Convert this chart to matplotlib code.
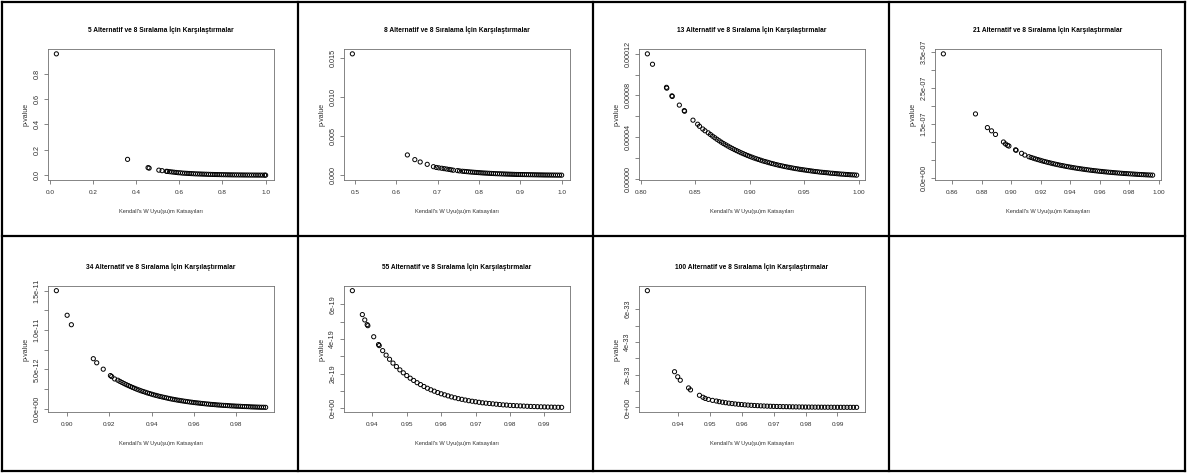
import matplotlib.pyplot as plt
from matplotlib.lines import Line2D

plt.rcParams['font.family'] = ['Liberation Sans', 'DejaVu Sans']

# number of alternatives compared in each panel (8 rankings each)
alternatives = [5, 8, 13, 21, 34, 55, 100]

# Kendall's W (x) and p-value (y)
w_05 = [0.03, 0.36, 0.455, 0.46, 0.505, 0.52, 0.54, 0.545, 0.555, 0.565, 0.575, 0.585,
        0.595, 0.605, 0.615, 0.625, 0.635, 0.645, 0.655, 0.665, 0.675, 0.685, 0.695,
        0.705, 0.715, 0.725, 0.735, 0.745, 0.755, 0.765, 0.775, 0.785, 0.795, 0.805,
        0.815, 0.825, 0.835, 0.845, 0.855, 0.865, 0.875, 0.885, 0.895, 0.905, 0.915,
        0.925, 0.935, 0.945, 0.955, 0.965, 0.975, 0.985, 0.995, 1.0]
p_05 = [0.955, 0.125, 0.060, 0.056, 0.040, 0.036, 0.031, 0.030, 0.028, 0.026, 0.024, 0.022,
        0.020, 0.019, 0.017, 0.016, 0.015, 0.014, 0.013, 0.012, 0.011, 0.0105, 0.0098,
        0.0091, 0.0085, 0.0079, 0.0073, 0.0068, 0.0063, 0.0058, 0.0054, 0.0050, 0.0046,
        0.0043, 0.0040, 0.0037, 0.0034, 0.0031, 0.0029, 0.0027, 0.0025, 0.0023, 0.0021,
        0.0019, 0.0018, 0.0016, 0.0015, 0.0014, 0.0013, 0.0012, 0.0011, 0.0010, 0.0009,
        0.0008]

w_08 = [0.494, 0.627, 0.645, 0.658, 0.675, 0.69, 0.697, 0.703, 0.71, 0.716, 0.722, 0.728,
        0.733, 0.738, 0.748, 0.753,
        0.760, 0.765, 0.770, 0.775, 0.780, 0.785, 0.790, 0.795, 0.800, 0.805,
        0.810, 0.815, 0.820, 0.825, 0.830, 0.835, 0.840, 0.845, 0.850, 0.855,
        0.860, 0.865, 0.870, 0.875, 0.880, 0.885, 0.890, 0.895, 0.900, 0.905,
        0.910, 0.915, 0.920, 0.925, 0.930, 0.935, 0.940, 0.945, 0.950, 0.955,
        0.960, 0.965, 0.970, 0.975, 0.980, 0.985, 0.990, 0.995, 1.000]
p_08 = [0.0155, 0.0026, 0.0020, 0.0017, 0.0014, 0.0011, 0.0010, 0.00095, 0.0009, 0.00085,
        0.0008, 0.00075, 0.0007, 0.00065, 0.0006, 0.00056,
        0.00052, 0.000495, 0.00047, 0.000445, 0.00042, 0.0004, 0.00038, 0.00036, 0.00034,
        0.00032, 0.0003, 0.000285, 0.00027, 0.000255, 0.00024, 0.000225, 0.00021, 0.0002,
        0.00019, 0.00018, 0.00017, 0.00016, 0.00015, 0.00014, 0.00013, 0.00012, 0.00011,
        0.000105, 0.0001, 0.000095, 0.00009, 0.000085, 0.00008, 0.000075, 0.00007,
        0.000065, 0.00006, 0.000055, 0.00005, 0.000045, 0.00004, 0.0000375, 0.000035,
        0.0000325, 0.00003, 0.0000275, 0.000025, 0.0000225, 0.00002]

w_13 = [0.8062, 0.8109, 0.8237, 0.8240, 0.8287, 0.8290, 0.8355, 0.8400, 0.8403, 0.848,
        0.8523, 0.854, 0.857, 0.859,
        0.862, 0.864, 0.866, 0.868, 0.870, 0.872, 0.874, 0.876, 0.878, 0.880,
        0.882, 0.884, 0.886, 0.888, 0.890, 0.892, 0.894, 0.896, 0.898, 0.900,
        0.902, 0.904, 0.906, 0.908, 0.910, 0.912, 0.914, 0.916, 0.918, 0.920,
        0.922, 0.924, 0.926, 0.928, 0.930, 0.932, 0.934, 0.936, 0.938, 0.940,
        0.942, 0.944, 0.946, 0.948, 0.950, 0.952, 0.954, 0.956, 0.958, 0.960,
        0.962, 0.964, 0.966, 0.968, 0.970, 0.972, 0.974, 0.976, 0.978, 0.980,
        0.982, 0.984, 0.986, 0.988, 0.990, 0.992, 0.994, 0.996, 0.998]
p_13 = [1.2e-4, 1.10e-4, 8.78e-5, 8.70e-5, 7.96e-5, 7.90e-5, 7.07e-5, 6.54e-5, 6.48e-5,
        5.62e-5, 5.23e-5, 5.03e-5, 4.77e-5, 4.60e-5,
        4.40e-5, 4.24e-5, 4.08e-5, 3.93e-5, 3.78e-5, 3.64e-5, 3.50e-5, 3.37e-5, 3.25e-5,
        3.13e-5, 3.01e-5, 2.90e-5, 2.79e-5, 2.69e-5, 2.59e-5, 2.49e-5, 2.40e-5, 2.31e-5,
        2.22e-5, 2.14e-5, 2.06e-5, 1.98e-5, 1.91e-5, 1.84e-5, 1.77e-5, 1.70e-5, 1.64e-5,
        1.58e-5, 1.52e-5, 1.46e-5, 1.41e-5, 1.35e-5, 1.30e-5, 1.25e-5, 1.21e-5, 1.16e-5,
        1.12e-5, 1.08e-5, 1.04e-5, 1.00e-5, 9.6e-6, 9.3e-6, 8.9e-6, 8.6e-6, 8.3e-6,
        8.0e-6, 7.7e-6, 7.4e-6, 7.1e-6, 6.8e-6, 6.6e-6, 6.3e-6, 6.1e-6, 5.9e-6, 5.7e-6,
        5.5e-6, 5.2e-6, 5.1e-6, 4.9e-6, 4.7e-6, 4.5e-6, 4.3e-6, 4.2e-6, 4.0e-6, 3.9e-6,
        3.7e-6, 3.6e-6, 3.5e-6, 3.3e-6]

w_21 = [0.8539, 0.8757, 0.8838, 0.8866, 0.8893, 0.8947, 0.8961, 0.8975, 0.8984, 0.9029,
        0.9033, 0.907, 0.9092,
        0.912, 0.9135, 0.915, 0.9165, 0.918, 0.9195, 0.921, 0.9225, 0.924, 0.9255,
        0.927, 0.9285, 0.930, 0.9315, 0.933, 0.9345, 0.936, 0.9375, 0.939, 0.9405,
        0.942, 0.9435, 0.945, 0.9465, 0.948, 0.9495, 0.951, 0.9525, 0.954, 0.9555,
        0.957, 0.9585, 0.960, 0.9615, 0.963, 0.9645, 0.966, 0.9675, 0.969, 0.9705,
        0.972, 0.9735, 0.975, 0.9765, 0.978, 0.9795, 0.981, 0.9825, 0.984, 0.9855,
        0.987, 0.9885, 0.990, 0.9915, 0.993, 0.9945, 0.996]
p_21 = [3.45e-7, 1.78e-7, 1.40e-7, 1.31e-7, 1.21e-7, 1.00e-7, 9.45e-8, 9.06e-8, 8.87e-8,
        7.81e-8, 7.70e-8, 6.85e-8, 6.36e-8,
        5.90e-8, 5.69e-8, 5.49e-8, 5.30e-8, 5.11e-8, 4.93e-8, 4.75e-8, 4.58e-8, 4.42e-8,
        4.27e-8, 4.12e-8, 3.97e-8, 3.83e-8, 3.70e-8, 3.56e-8, 3.44e-8, 3.32e-8, 3.20e-8,
        3.09e-8, 2.98e-8, 2.87e-8, 2.77e-8, 2.67e-8, 2.58e-8, 2.49e-8, 2.40e-8, 2.31e-8,
        2.23e-8, 2.15e-8, 2.07e-8, 2.00e-8, 1.93e-8, 1.86e-8, 1.80e-8, 1.73e-8, 1.67e-8,
        1.61e-8, 1.56e-8, 1.50e-8, 1.45e-8, 1.40e-8, 1.35e-8, 1.30e-8, 1.25e-8, 1.21e-8,
        1.17e-8, 1.13e-8, 1.09e-8, 1.05e-8, 1.01e-8, 9.7e-9, 9.4e-9, 9.1e-9, 8.7e-9,
        8.4e-9, 8.1e-9, 7.8e-9]

w_34 = [0.8949, 0.900, 0.902, 0.9124, 0.914, 0.9171, 0.9205, 0.9211, 0.9225,
        0.924, 0.925, 0.926, 0.927, 0.928, 0.929, 0.930, 0.931, 0.932, 0.933,
        0.934, 0.935, 0.936, 0.937, 0.938, 0.939, 0.940, 0.941, 0.942, 0.943,
        0.944, 0.945, 0.946, 0.947, 0.948, 0.949, 0.950, 0.951, 0.952, 0.953,
        0.954, 0.955, 0.956, 0.957, 0.958, 0.959, 0.960, 0.961, 0.962, 0.963,
        0.964, 0.965, 0.966, 0.967, 0.968, 0.969, 0.970, 0.971, 0.972, 0.973,
        0.974, 0.975, 0.976, 0.977, 0.978, 0.979, 0.980, 0.981, 0.982, 0.983,
        0.984, 0.985, 0.986, 0.987, 0.988, 0.989, 0.990, 0.991, 0.992, 0.993, 0.994]
p_34 = [1.5e-11, 1.188e-11, 1.068e-11, 6.37e-12, 5.85e-12, 5.04e-12, 4.23e-12, 4.10e-12,
        3.80e-12,
        3.64e-12, 3.49e-12, 3.35e-12, 3.21e-12, 3.08e-12, 2.96e-12, 2.84e-12, 2.72e-12,
        2.61e-12, 2.50e-12, 2.40e-12, 2.30e-12, 2.21e-12, 2.12e-12, 2.03e-12, 1.95e-12,
        1.87e-12, 1.79e-12, 1.72e-12, 1.65e-12, 1.58e-12, 1.52e-12, 1.46e-12, 1.40e-12,
        1.34e-12, 1.28e-12, 1.23e-12, 1.18e-12, 1.13e-12, 1.09e-12, 1.04e-12, 1.00e-12,
        9.6e-13, 9.2e-13, 8.8e-13, 8.5e-13, 8.1e-13, 7.8e-13, 7.5e-13, 7.2e-13, 6.9e-13,
        6.6e-13, 6.3e-13, 6.1e-13, 5.8e-13, 5.6e-13, 5.4e-13, 5.1e-13, 4.9e-13, 4.7e-13,
        4.5e-13, 4.4e-13, 4.2e-13, 4.0e-13, 3.8e-13, 3.7e-13, 3.5e-13, 3.4e-13, 3.3e-13,
        3.1e-13, 3.0e-13, 2.9e-13, 2.8e-13, 2.6e-13, 2.5e-13, 2.4e-13, 2.3e-13, 2.2e-13,
        2.1e-13, 2.1e-13, 2.0e-13]

w_55 = [0.9342, 0.9371, 0.9378, 0.9385, 0.9387, 0.9404, 0.9418, 0.942,
        0.943, 0.944, 0.945, 0.946, 0.947, 0.948, 0.949, 0.950, 0.951, 0.952,
        0.953, 0.954, 0.955, 0.956, 0.957, 0.958, 0.959, 0.960, 0.961, 0.962,
        0.963, 0.964, 0.965, 0.966, 0.967, 0.968, 0.969, 0.970, 0.971, 0.972,
        0.973, 0.974, 0.975, 0.976, 0.977, 0.978, 0.979, 0.980, 0.981, 0.982,
        0.983, 0.984, 0.985, 0.986, 0.987, 0.988, 0.989, 0.990, 0.991, 0.992,
        0.993, 0.994, 0.995]
p_55 = [6.78e-19, 5.40e-19, 5.09e-19, 4.82e-19, 4.76e-19, 4.12e-19, 3.67e-19, 3.61e-19,
        3.32e-19, 3.06e-19, 2.82e-19, 2.60e-19, 2.40e-19, 2.21e-19, 2.04e-19, 1.88e-19,
        1.73e-19, 1.60e-19, 1.47e-19, 1.36e-19, 1.25e-19, 1.15e-19, 1.06e-19, 9.8e-20,
        9.0e-20, 8.3e-20, 7.7e-20, 7.1e-20, 6.5e-20, 6.0e-20, 5.5e-20, 5.1e-20, 4.7e-20,
        4.3e-20, 4.0e-20, 3.7e-20, 3.4e-20, 3.1e-20, 2.9e-20, 2.7e-20, 2.5e-20, 2.3e-20,
        2.1e-20, 1.9e-20, 1.8e-20, 1.6e-20, 1.5e-20, 1.4e-20, 1.3e-20, 1.2e-20, 1.1e-20,
        1.0e-20, 9.2e-21, 8.5e-21, 7.8e-21, 7.2e-21, 6.6e-21, 6.1e-21, 5.6e-21, 5.2e-21,
        4.8e-21]

w_100 = [0.9305, 0.939, 0.940, 0.9408, 0.9434, 0.944, 0.9468, 0.9479, 0.9486, 0.9496,
         0.9509, 0.9521,
         0.953, 0.954, 0.955, 0.956, 0.957, 0.958, 0.959, 0.960, 0.961, 0.962,
         0.963, 0.964, 0.965, 0.966, 0.967, 0.968, 0.969, 0.970, 0.971, 0.972,
         0.973, 0.974, 0.975, 0.976, 0.977, 0.978, 0.979, 0.980, 0.981, 0.982,
         0.983, 0.984, 0.985, 0.986, 0.987, 0.988, 0.989, 0.990, 0.991, 0.992,
         0.993, 0.994, 0.995, 0.996]
p_100 = [7.13e-33, 2.18e-33, 1.87e-33, 1.66e-33, 1.19e-33, 1.07e-33, 7.4e-34, 6.2e-34,
         5.5e-34, 4.9e-34, 4.3e-34, 3.9e-34,
         3.5e-34, 3.17e-34, 2.87e-34, 2.59e-34, 2.35e-34, 2.12e-34, 1.92e-34, 1.74e-34,
         1.57e-34, 1.42e-34, 1.29e-34, 1.17e-34, 1.05e-34, 9.5e-35, 8.6e-35, 7.8e-35,
         7.1e-35, 6.4e-35, 5.8e-35, 5.2e-35, 4.7e-35, 4.3e-35, 3.9e-35, 3.5e-35, 3.2e-35,
         2.9e-35, 2.6e-35, 2.3e-35, 2.1e-35, 1.9e-35, 1.7e-35, 1.6e-35, 1.4e-35, 1.3e-35,
         1.2e-35, 1.1e-35, 9.5e-36, 8.6e-36, 7.8e-36, 7.0e-36, 6.4e-36, 5.8e-36, 5.2e-36,
         4.7e-36]

w_all = [w_05, w_08, w_13, w_21, w_34, w_55, w_100]
p_all = [p_05, p_08, p_13, p_21, p_34, p_55, p_100]

# axis ticks and their labels (R drops labels that would overlap)
x_ticks = [
    [0.0, 0.2, 0.4, 0.6, 0.8, 1.0],
    [0.5, 0.6, 0.7, 0.8, 0.9, 1.0],
    [0.80, 0.85, 0.90, 0.95, 1.00],
    [0.86, 0.88, 0.90, 0.92, 0.94, 0.96, 0.98, 1.00],
    [0.90, 0.92, 0.94, 0.96, 0.98],
    [0.94, 0.95, 0.96, 0.97, 0.98, 0.99],
    [0.94, 0.95, 0.96, 0.97, 0.98, 0.99],
]
x_labels = [
    ['0.0', '0.2', '0.4', '0.6', '0.8', '1.0'],
    ['0.5', '0.6', '0.7', '0.8', '0.9', '1.0'],
    ['0.80', '0.85', '0.90', '0.95', '1.00'],
    ['0.86', '0.88', '0.90', '0.92', '0.94', '0.96', '0.98', '1.00'],
    ['0.90', '0.92', '0.94', '0.96', '0.98'],
    ['0.94', '0.95', '0.96', '0.97', '0.98', '0.99'],
    ['0.94', '0.95', '0.96', '0.97', '0.98', '0.99'],
]
y_ticks = [
    [0.0, 0.2, 0.4, 0.6, 0.8],
    [0.0, 0.005, 0.010, 0.015],
    [0.0, 2e-5, 4e-5, 6e-5, 8e-5, 1e-4, 1.2e-4],
    [0.0, 5e-8, 1e-7, 1.5e-7, 2e-7, 2.5e-7, 3e-7, 3.5e-7],
    [0.0, 2.5e-12, 5e-12, 7.5e-12, 1e-11, 1.25e-11, 1.5e-11],
    [0.0, 1e-19, 2e-19, 3e-19, 4e-19, 5e-19, 6e-19],
    [0.0, 1e-33, 2e-33, 3e-33, 4e-33, 5e-33, 6e-33],
]
y_labels = [
    ['0.0', '0.2', '0.4', '0.6', '0.8'],
    ['0.000', '0.005', '0.010', '0.015'],
    ['0.00000', '', '0.00004', '', '0.00008', '', '0.00012'],
    ['0.0e+00', '', '', '1.5e-07', '', '2.5e-07', '', '3.5e-07'],
    ['0.0e+00', '', '5.0e-12', '', '1.0e-11', '', '1.5e-11'],
    ['0e+00', '', '2e-19', '', '4e-19', '', '6e-19'],
    ['0e+00', '', '2e-33', '', '4e-33', '', '6e-33'],
]

W, H = 1188, 474
col_x = [2, 298, 593, 889, 1185]
row_y = [2, 236, 471]
box_top = [47, 50]      # offset of the plot box below each row line, px
box_bottom = [178, 176]
grey = '#707070'
ink = '#303030'

fig = plt.figure(figsize=(W / 100, H / 100), dpi=100)

for k, n in enumerate(alternatives):
    i, j = divmod(k, 4)
    left = (col_x[j] + 46) / W
    bottom = 1 - (row_y[i] + box_bottom[i]) / H
    height = (box_bottom[i] - box_top[i]) / H
    ax = fig.add_axes([left, bottom, 226 / W, height])
    ax.scatter(w_all[k], p_all[k], s=9, facecolors='none', edgecolors='black',
               linewidths=0.7)
    ax.margins(0.04)
    ax.set_xticks(x_ticks[k], x_labels[k])
    ax.set_yticks(y_ticks[k], y_labels[k])
    ax.tick_params(axis='both', length=3, width=0.6, color=grey, labelcolor=ink)
    ax.tick_params(axis='x', labelsize=4.6, pad=4)
    ax.tick_params(axis='y', labelsize=5.2, pad=2.5, labelrotation=90)
    for lbl in ax.get_yticklabels():
        lbl.set_va('center')
    for sp in ax.spines.values():
        sp.set_color(grey)
        sp.set_linewidth(0.6)
    ax.set_title(f'{n} Alternatif ve 8 Sıralama İçin Karşılaştırmalar',
                 fontsize=4.8, fontweight='bold', pad=12)
    ax.set_xlabel("Kendall's W Uyu(şu)m Katsayıları", fontsize=4.1, labelpad=10,
                  color=ink)
    ax.set_ylabel('p-value', fontsize=5.0, labelpad=3, color=ink)

# table grid around the panels
for x in col_x:
    fig.add_artist(Line2D([x / W, x / W], [1 - row_y[0] / H, 1 - row_y[-1] / H],
                          transform=fig.transFigure, color='black', lw=1.6))
for y in row_y:
    fig.add_artist(Line2D([col_x[0] / W, col_x[-1] / W], [1 - y / H, 1 - y / H],
                          transform=fig.transFigure, color='black', lw=1.6))

fig.savefig('out.png', dpi=100)
